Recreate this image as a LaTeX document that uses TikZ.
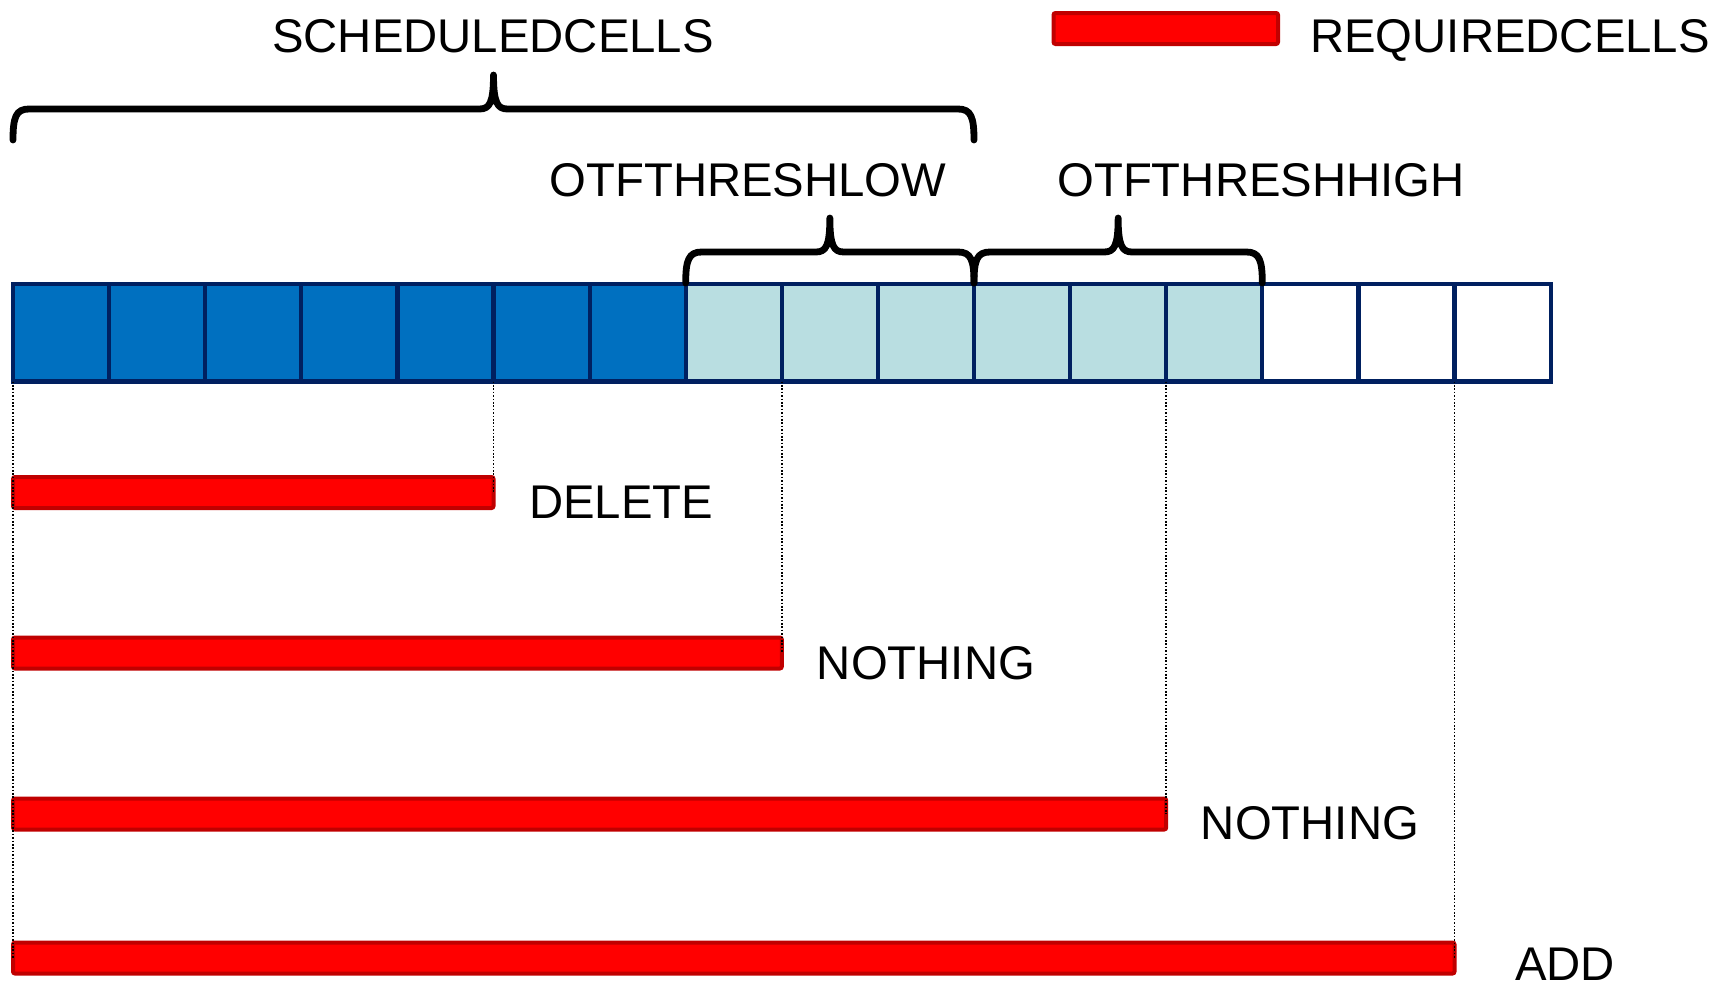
\documentclass[tikz,border=0pt]{standalone}
\usepackage{fontspec}
\setmainfont{Liberation Sans}
\definecolor{cellblue}{HTML}{0070C0}
\definecolor{cellnavy}{HTML}{002060}
\definecolor{celllight}{HTML}{B9DEE1}
\definecolor{barred}{HTML}{FF0000}
\definecolor{barborder}{HTML}{C00000}
\newcommand{\drawhbrace}[3]{%
  \pgfmathsetmacro\bmid{(#1+#2)/2}%
  \draw[bracestyle] (#1,#3+31) .. controls (#1,#3+8) and (#1+3,#3) .. (#1+16,#3)
    -- (\bmid-14,#3) .. controls (\bmid-4,#3) and (\bmid,#3-6) .. (\bmid,#3-34)
    .. controls (\bmid,#3-6) and (\bmid+4,#3) .. (\bmid+14,#3)
    -- (#2-16,#3) .. controls (#2-3,#3) and (#2,#3+8) .. (#2,#3+31);%
}
\begin{document}
\begin{tikzpicture}[x=0.5pt,y=-0.5pt,
  cell/.style={draw=cellnavy, line width=2.1pt, minimum width=48.05pt, minimum height=48.75pt, inner sep=0pt, outer sep=0pt},
  bar/.style={draw=barborder, fill=barred, line width=2pt, rounded corners=1pt, minimum height=15.5pt, inner sep=0pt, outer sep=0pt},
  lbl/.style={font=\fontsize{23.65}{28}\selectfont, inner sep=0pt, anchor=base},
  bracestyle/.style={line width=3.4pt, line cap=round, line join=round},
  dotline/.style={line width=0.8pt, dash pattern=on 0.8pt off 0.9pt}
]
\useasboundingbox (0,0) rectangle (1719,985);

% cells
\foreach \i in {0,...,15} {
  \pgfmathsetmacro\cx{61.05+96.1*\i}
  \ifnum\i<7 \def\cf{cellblue}\else\ifnum\i<13 \def\cf{celllight}\else\def\cf{white}\fi\fi
  \node[cell, fill=\cf] (c\i) at (\cx,332.75) {};
}

% braces
\drawhbrace{13}{974}{109}
\drawhbrace{685.7}{974}{252}
\drawhbrace{974}{1262.3}{252}

% bars
\node[bar, minimum width=112.25pt] (legbar) at (1165.75,28.5) {};
\node[bar, minimum width=240.25pt] (bar1) at (253.25,492.5) {};
\node[bar, minimum width=384.4pt] (bar2) at (397.4,653) {};
\node[bar, minimum width=576.6pt] (bar3) at (589.6,814) {};
\node[bar, minimum width=720.75pt] (bar4) at (733.75,958) {};

% dotted guides
\draw[dotline] (c0.south west) -- (c0.south west |- bar4.center);
\draw[dotline] (c5.south west) -- (c5.south west |- bar1.center);
\draw[dotline] (c8.south west) -- (c8.south west |- bar2.center);
\draw[dotline] (c12.south west) -- (c12.south west |- bar3.center);
\draw[dotline] (c15.south west) -- (c15.south west |- bar4.center);

% labels
\node[lbl] (tsched) at (493,53) {SCHEDULEDCELLS};
\node[lbl] (treq) at (1510,53) {REQUIREDCELLS};
\node[lbl] (tlow) at (748,196) {OTFTHRESHLOW};
\node[lbl] (thigh) at (1261,196) {OTFTHRESHHIGH};
\node[lbl] (tdel) at (621,518) {DELETE};
\node[lbl] (tno1) at (926,679) {NOTHING};
\node[lbl] (tno2) at (1310,839) {NOTHING};
\node[lbl] (tadd) at (1565,980) {ADD};
\end{tikzpicture}
\end{document}
